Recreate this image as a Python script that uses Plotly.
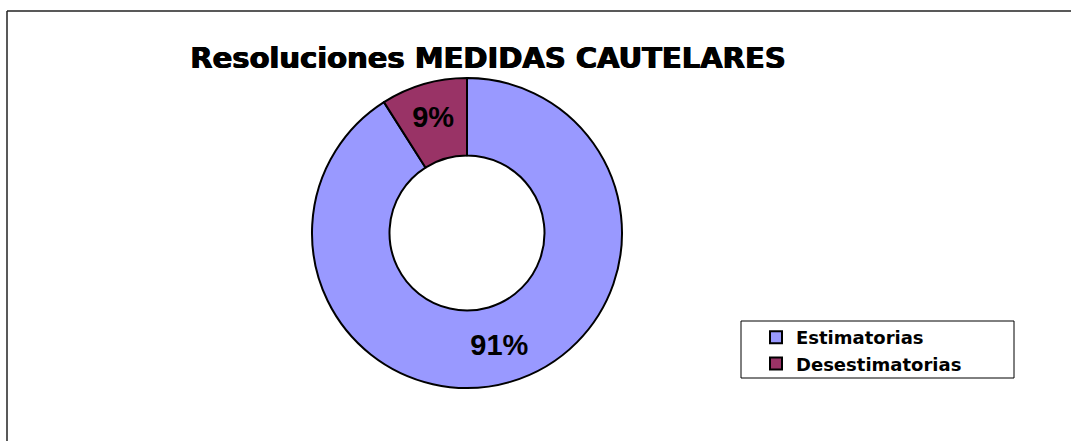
import plotly.graph_objects as go

categories = ["Estimatorias", "Desestimatorias"]
values = [91, 9]
colors = ["#9999FF", "#993366"]
title_text = "Resoluciones MEDIDAS CAUTELARES"

W, H = 1071, 441

fig = go.Figure(go.Pie(
    labels=categories,
    values=values,
    hole=0.5,
    sort=False,
    direction="clockwise",
    rotation=0,
    marker=dict(colors=colors, line=dict(color="black", width=2)),
    textinfo="percent",
    texttemplate="%{percent:.0%}",
    textposition="inside",
    insidetextorientation="horizontal",
    textfont=dict(family="Liberation Sans, Arial", size=29, color="black", weight="bold"),
    domain=dict(x=[312 / W, 622 / W], y=[1 - 388 / H, 1 - 78 / H]),
    hoverinfo="label+percent",
))

fig.update_layout(
    width=W, height=H,
    margin=dict(l=0, r=0, t=0, b=0),
    paper_bgcolor="white",
    plot_bgcolor="white",
    uniformtext=dict(minsize=29, mode="show"),
    title=dict(
        text=title_text,
        x=488 / W, xanchor="center",
        y=1 - 58 / H, yanchor="middle",
        font=dict(family="DejaVu Sans", size=29, color="black", weight="bold",
                  shadow="0.6px 0px 0px black, -0.6px 0px 0px black"),
    ),
    legend=dict(
        x=756 / W, xanchor="left",
        y=1 - 319 / H, yanchor="top",
        borderwidth=0,
        bgcolor="rgba(0,0,0,0)",
        font=dict(family="DejaVu Sans", size=18, color="black", weight="bold"),
        itemwidth=30,
        tracegroupgap=0,
    ),
    shapes=[
        dict(type="line", xref="paper", yref="paper",
             x0=7 / W, x1=1.0, y0=1 - 11 / H, y1=1 - 11 / H,
             line=dict(color="#222222", width=1.5)),
        dict(type="line", xref="paper", yref="paper",
             x0=7 / W, x1=7 / W, y0=0, y1=1 - 11 / H,
             line=dict(color="#222222", width=1.5)),
        dict(type="rect", xref="paper", yref="paper", layer="below",
             x0=741 / W, x1=1014 / W, y0=1 - 378 / H, y1=1 - 321 / H,
             line=dict(color="black", width=1), fillcolor="white"),
    ],
)

fig.write_html("out.html", config={"displayModeBar": False},
               post_script="document.body.style.margin='0px';document.body.style.padding='0px';")
